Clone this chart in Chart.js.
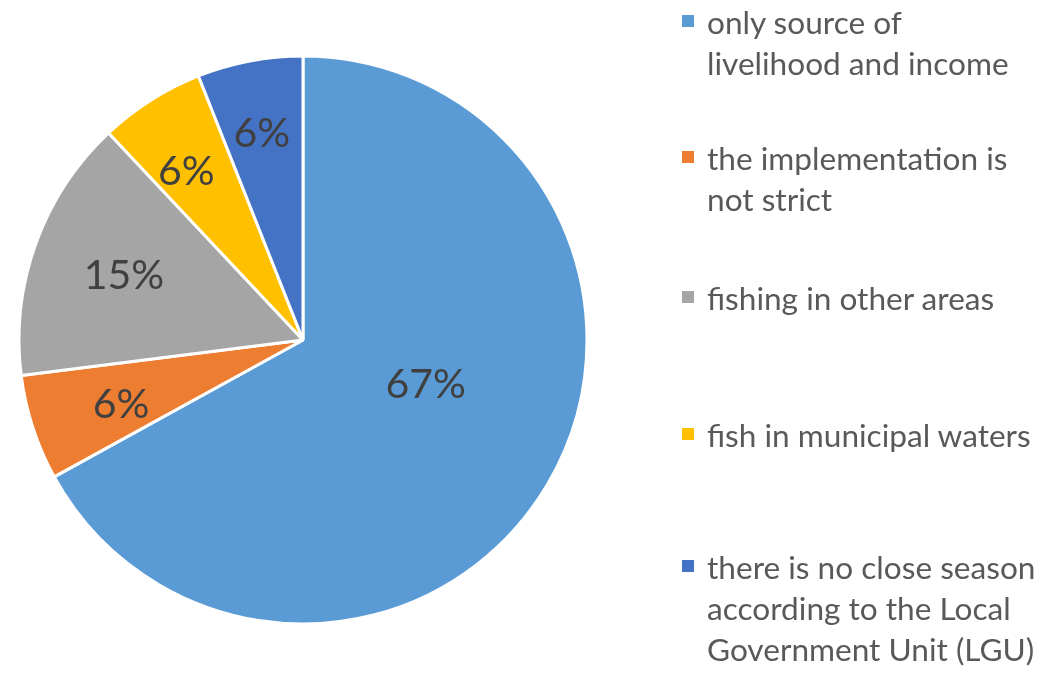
<!DOCTYPE html>
<html>
<head>
<meta charset="utf-8">
<script src="https://cdn.jsdelivr.net/npm/chart.js@4"></script>
<style>
  html, body { margin: 0; padding: 0; background: #fff; }
  #wrap { position: relative; width: 1053px; height: 674px; }
  #legend { position: absolute; left: 0; top: 0; width: 1053px; height: 674px; pointer-events: none;
            font-family: Lato, "Open Sans", sans-serif; font-size: 31.6px; color: #595959; }
  .item { position: absolute; left: 682px; }
  .mark { position: absolute; left: 0; width: 12px; height: 12px; }
  .line { position: absolute; left: 25px; white-space: nowrap; line-height: 1; }
</style>
</head>
<body>
<div id="wrap">
  <canvas id="chart-js" width="1053" height="674"></canvas>
  <div id="legend"></div>
</div>
<script>
    const categories = [
        ['only source of', 'livelihood and income'],
        ['the implementation is', 'not strict'],
        ['fishing in other areas'],
        ['fish in municipal waters'],
        ['there is no close season', 'according to the Local', 'Government Unit (LGU)']
    ];
    const shares = [67, 6, 15, 6, 6];
    const colors = ['#5B9BD5', '#ED7D31', '#A5A5A5', '#FFC000', '#4472C4'];

    // label spot inside each slice: fraction of radius, angle nudge in degrees
    const labelSpot = [[0.46, -10.5], [0.68, -1.5], [0.67, 0], [0.72, -2.4], [0.74, -0.5]];
    // legend rows: first baseline of each entry
    const legendTop = [32, 168, 308, 445, 577];

    const pctLabels = {
        id: 'pctLabels',
        afterDatasetsDraw(chart) {
            const ctx = chart.ctx;
            const arcs = chart.getDatasetMeta(0).data;
            ctx.save();
            ctx.font = '41px Lato, "Open Sans", sans-serif';
            ctx.fillStyle = '#404040';
            ctx.textAlign = 'center';
            ctx.textBaseline = 'middle';
            arcs.forEach((arc, i) => {
                const { x, y, startAngle, endAngle, outerRadius } = arc.getProps(['x', 'y', 'startAngle', 'endAngle', 'outerRadius'], true);
                const a = (startAngle + endAngle) / 2 + labelSpot[i][1] * Math.PI / 180;
                const r = outerRadius * labelSpot[i][0];
                ctx.fillText(shares[i] + '%', x + Math.cos(a) * r, y + Math.sin(a) * r);
            });
            ctx.restore();
        }
    };

    const ctx = document.getElementById('chart-js').getContext('2d');
    new Chart(ctx, {
        type: 'pie',
        data: {
            labels: categories.map(l => l.join(' ')),
            datasets: [{
                data: shares,
                backgroundColor: colors,
                borderColor: '#ffffff',
                borderWidth: 3
            }]
        },
        options: {
            responsive: false,
            animation: false,
            layout: { padding: { left: 17.5, top: 54.5, right: 1053 - 17.5 - 571, bottom: 674 - 54.5 - 571 } },
            plugins: {
                legend: { display: false },
                tooltip: { enabled: false }
            }
        },
        plugins: [pctLabels]
    });

    // legend on the right, one block per category
    const legend = document.getElementById('legend');
    categories.forEach((lines, i) => {
        const item = document.createElement('div');
        item.className = 'item';
        item.style.top = legendTop[i] + 'px';
        const mark = document.createElement('div');
        mark.className = 'mark';
        mark.style.background = colors[i];
        mark.style.top = '-17px';
        item.appendChild(mark);
        lines.forEach((t, j) => {
            const span = document.createElement('div');
            span.className = 'line';
            span.textContent = t;
            // line box top so that the baseline sits at 41px steps
            span.style.top = (j * 41 - 25) + 'px';
            item.appendChild(span);
        });
        legend.appendChild(item);
    });
</script>
</body>
</html>
